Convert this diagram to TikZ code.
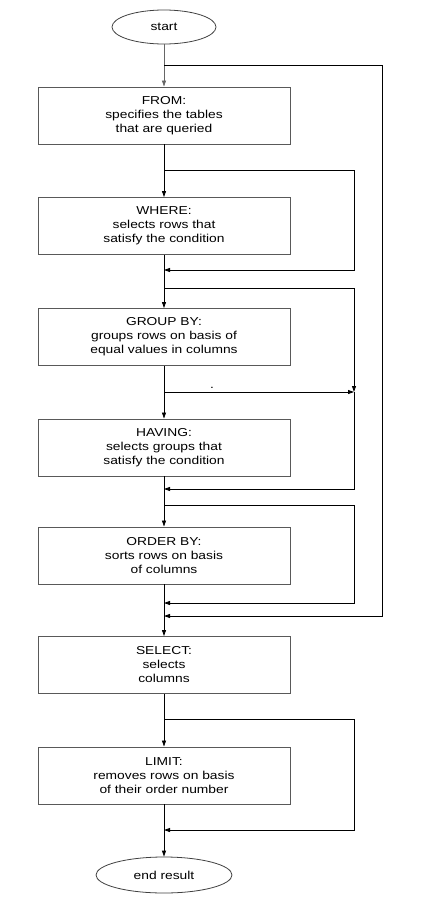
\documentclass[tikz,border=0pt]{standalone}
\usepackage{fontspec}
\setmainfont{Liberation Sans}[FakeStretch=1.2]
\usetikzlibrary{positioning,shapes,arrows.meta}

\begin{document}
\begin{tikzpicture}[x=1pt,y=-1pt,
        every node/.style={font=\fontsize{11.5}{14}\selectfont},
        stepbox/.style={draw=black!65, line width=.9pt, minimum width=252pt, minimum height=57pt, align=center, inner sep=0pt},
        term/.style={ellipse, draw=black!75, line width=.8pt, inner sep=0pt},
        flow/.style={-{Triangle[length=6pt,width=4pt]}, line width=.8pt}]
                \useasboundingbox (0,0) rectangle (428,916);
                \node [term, minimum width=104pt, minimum height=34pt] (start) at (164,27) {start};
                \node [stepbox] (from) at (164,115.5) {FROM:\\specifies the tables\\that are queried};
                \node [stepbox] (where) at (164,226) {WHERE:\\selects rows that\\satisfy the condition};
                \node [stepbox] (group) at (164,337) {GROUP BY:\\groups rows on basis of\\equal values in columns};
                \node [stepbox] (having) at (164,447.5) {HAVING:\\selects groups that\\satisfy the condition};
                \node [stepbox] (order) at (164,555.5) {ORDER BY:\\sorts rows on basis\\of columns};
                \node [stepbox] (select) at (164,665) {SELECT:\\selects\\columns};
                \node [stepbox] (limit) at (164,775.5) {LIMIT:\\removes rows on basis\\of their order number};
                \node [term, minimum width=136pt, minimum height=36pt] (end) at (164,875) {end result};
                \node [anchor=base, inner sep=0pt] (dot) at (212,388) {.};
                % points on the main line
                \coordinate (j0) at (164,65);
                \coordinate (j1) at (164,170);
                \coordinate (r1) at (164,270);
                \coordinate (j2) at (164,288);
                \coordinate (j3) at (164,392);
                \coordinate (k) at (354,392);
                \coordinate (r2) at (164,489);
                \coordinate (j4) at (164,505);
                \coordinate (r3) at (164,603);
                \coordinate (r4) at (164,616);
                \coordinate (j5) at (164,719);
                \coordinate (r5) at (164,830);
                % main flow
                \draw [flow, draw=black!60] (start) -- (from);
                \draw [flow] (from) -- (where);
                \draw [flow] (where) -- (group);
                \draw [flow] (group) -- (having);
                \draw [flow] (having) -- (order);
                \draw [flow] (order) -- (select);
                \draw [flow] (select) -- (limit);
                \draw [flow] (limit) -- (end);
                % skips
                \draw [flow] (j0) -- ++(218,0) |- (r4);
                \draw [flow] (j1) -- ++(190,0) |- (r1);
                \draw [flow] (j2) -- ++(190,0) -- (k);
                \draw [flow] (j3) -- (k);
                \draw [flow] (k) |- (r2);
                \draw [flow] (j4) -- ++(190,0) |- (r3);
                \draw [flow] (j5) -- ++(190,0) |- (r5);
            \end{tikzpicture}
\end{document}
